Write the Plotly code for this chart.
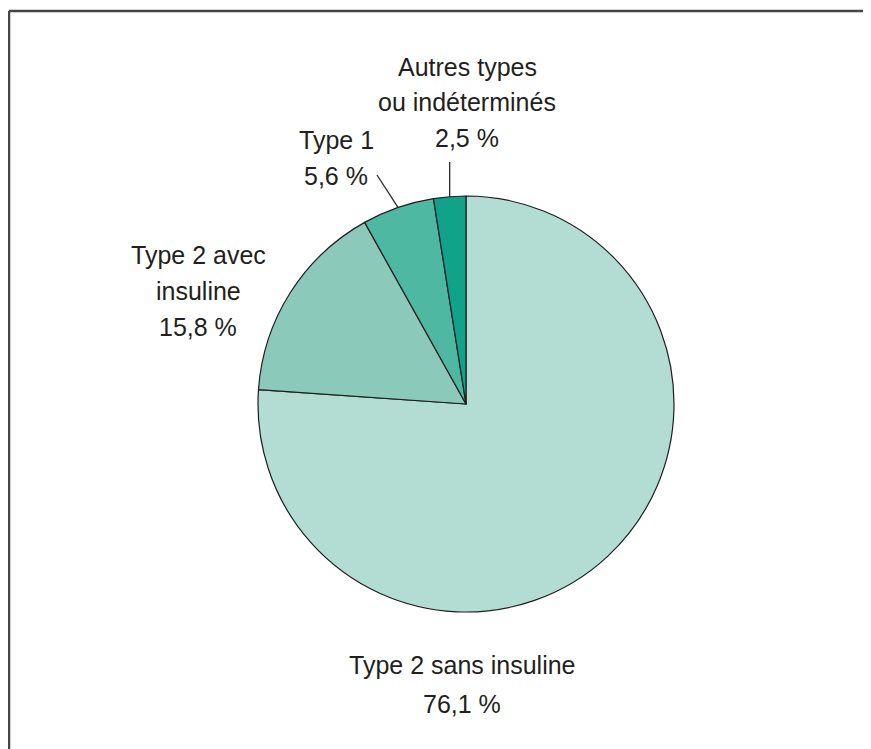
import math
import plotly.graph_objects as go

categories = ["Type 2 sans insuline", "Type 2 avec insuline", "Type 1", "Autres types ou indéterminés"]
values = [76.1, 15.8, 5.6, 2.5]
label_lines = [["Type 2 sans insuline", "76,1 %"],
               ["Type 2 avec", "insuline", "15,8 %"],
               ["Type 1", "5,6 %"],
               ["Autres types", "ou indéterminés", "2,5 %"]]
colors = ["#b3ddd3", "#8bc9ba", "#4fb8a3", "#10a38a"]

W, H = 871, 749
OFF = 8  # page body margin
cx, cy, R = 466 - OFF, 404 - OFF, 208
FONT = "Liberation Sans Narrow, Arial Narrow, Liberation Sans, sans-serif"

fig = go.Figure()
fig.add_trace(go.Pie(
    labels=categories, values=values, sort=False, direction="clockwise", rotation=0,
    marker=dict(colors=colors, line=dict(color="#1e1e1e", width=1.2)),
    textinfo="none", hoverinfo="label+percent", showlegend=False,
    domain=dict(x=[(cx - R) / W, (cx + R) / W], y=[1 - (cy + R) / H, 1 - (cy - R) / H]),
))

total = sum(values)
cum = 0
mids = []
for v in values:
    a = (cum + v / 2) / total * 2 * math.pi
    mids.append((cx + R * math.sin(a), cy - R * math.cos(a)))
    cum += v

# leader lines for small slices
leaders = [(2, (377 - OFF, 175 - OFF)), (3, None)]
for idx, tail in leaders:
    ex, ey = mids[idx]
    if tail is None:
        tail = (ex, 162 - OFF)
    fig.add_trace(go.Scatter(x=[ex, tail[0]], y=[ey, tail[1]], mode="lines",
                             line=dict(color="#2a2a2a", width=1.3), hoverinfo="skip",
                             showlegend=False))

fig.update_xaxes(range=[0, W], visible=False, fixedrange=True)
fig.update_yaxes(range=[H, 0], visible=False, fixedrange=True)

# label centres x and baselines of each line (page pixels)
label_x = [462, 198, 336, 467]
label_baselines = [[673, 712], [263, 299, 335], [148, 184], [75, 110, 146]]
for lines, x, bls in zip(label_lines, label_x, label_baselines):
    for txt, bl in zip(lines, bls):
        fig.add_annotation(x=(x - OFF) / W, y=1 - (bl - 8 - OFF) / H, xref="paper", yref="paper",
                           text=txt, showarrow=False, xanchor="center", yanchor="middle",
                           font=dict(family=FONT, size=25, color="#231f20"))

# frame (top and left edges visible)
fig.add_shape(type="line", xref="paper", yref="paper", x0=(9 - OFF) / W, x1=1.02,
              y0=1 - (11 - OFF) / H, y1=1 - (11 - OFF) / H, line=dict(color="#454545", width=2.5))
fig.add_shape(type="line", xref="paper", yref="paper", x0=(9 - OFF) / W, x1=(9 - OFF) / W,
              y0=1 - (11 - OFF) / H, y1=-0.02, line=dict(color="#454545", width=2.5))

fig.update_layout(width=W, height=H, margin=dict(l=0, r=0, t=0, b=0),
                  paper_bgcolor="white", plot_bgcolor="white")
fig.write_html("out.html")
